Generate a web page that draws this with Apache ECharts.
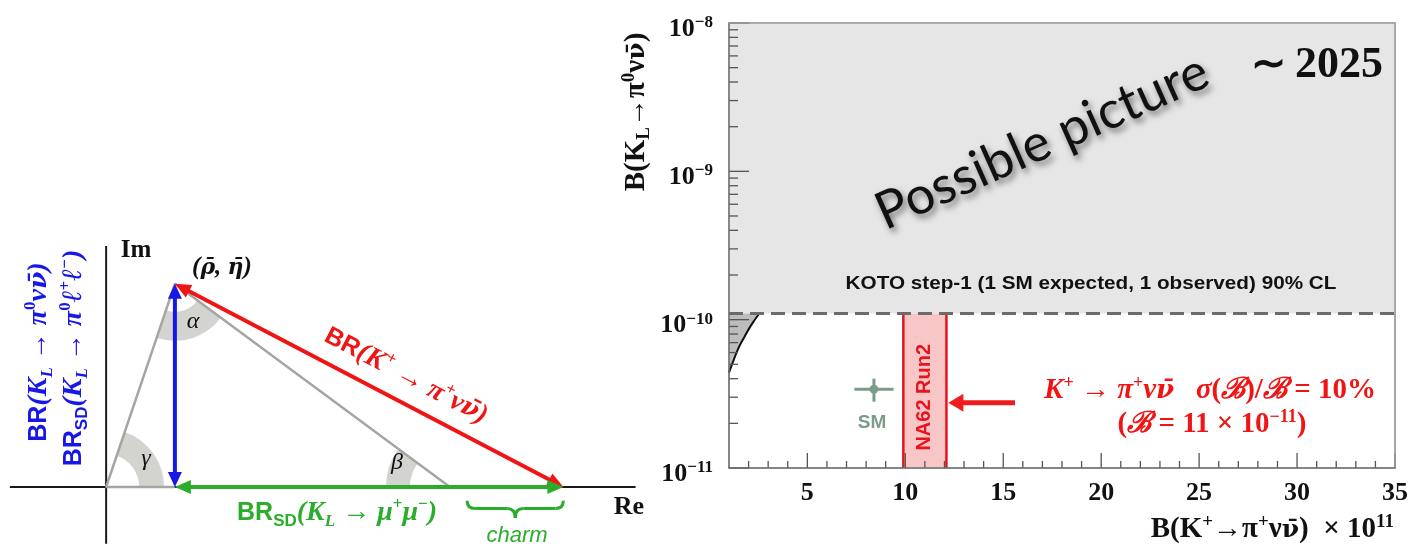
<!DOCTYPE html>
<html>
<head>
<meta charset="utf-8">
<script src="https://cdn.jsdelivr.net/npm/echarts@6/dist/echarts.min.js"></script>
<style>
  html, body { margin: 0; padding: 0; background: #ffffff; }
  #chart { width: 1416px; height: 549px; }
</style>
</head>
<body>
<div id="chart"></div>
<script>
// ---------- Unitarity triangle in the (Re, Im) plane ----------
const reAxis = [[-0.28, 0], [1.54, 0]];
const imAxis = [[0, -0.165], [0, 0.70]];
const apex = [0.2, 0.59];            // (rho-bar, eta-bar)
const apexFoot = [0.2, 0];
const origin = [0, 0];
const baseEnd = [1, 0];
const charmEnd = [1.33, 0];
const charmBrace = [1.05, 1.33, -0.04, -0.09];   // x from, x to, y top, y tip

// ---------- B(KL -> pi0 nu nubar) vs B(K+ -> pi+ nu nubar) ----------
const xRange = [1, 35];               // B(K+ -> pi+ nu nubar) x 1e11
const yRange = [1e-11, 1e-8];         // B(KL -> pi0 nu nubar)
const xTickLabels = [5, 10, 15, 20, 25, 30, 35];
const xMinorTicks = [2, 3, 4, 6, 7, 8, 9, 11, 12, 13, 14, 16, 17, 18, 19, 21, 22, 23, 24,
                     26, 27, 28, 29, 31, 32, 33, 34];
const yMajorTicks = [1e-11, 1e-10, 1e-9, 1e-8];
const yMinorTicks = [2e-11, 3e-11, 4e-11, 5e-11, 6e-11, 7e-11, 8e-11, 9e-11,
                     2e-10, 3e-10, 4e-10, 5e-10, 6e-10, 7e-10, 8e-10, 9e-10,
                     2e-9, 3e-9, 4e-9, 5e-9, 6e-9, 7e-9, 8e-9, 9e-9];
const kotoLimit = 1.1e-10;            // KOTO step-1, 90% CL
const gnBound = [[1.0, 4.4e-11], [1.25, 5.4e-11], [1.5, 6.5e-11], [1.75, 7.5e-11],
                 [2.0, 8.6e-11], [2.25, 9.7e-11], [2.55, 1.1e-10]];   // Grossman-Nir bound
const smPoint = [8.4, 3.4e-11];
const smErrX = [7.4, 9.4];
const smErrY = [2.8e-11, 4.0e-11];
const na62Central = 11;               // x 1e-11
const na62RelErr = 0.10;
const na62LabelY = 3.0e-11;
const na62Arrow = [15.6, 2.75e-11, 12.2, 2.75e-11];

// ---------- styles ----------
const SERIF = '"Liberation Serif", "Times New Roman", serif';
const SANS = '"Liberation Sans", Arial, sans-serif';
const MARKS = '"DejaVu Serif", serif';   // carries the combining macron
const LATO = 'Lato, "Open Sans", sans-serif';
const RED = '#f01414';
const BLUE = '#1717e6';
const GREEN = '#2aad2a';
const INK = '#111111';

function tok(family, size, weight, style, color, lh, va) {
  const o = { fontFamily: family, fontSize: size, fontWeight: weight, fontStyle: style,
              fill: color, color: color, lineHeight: lh };
  if (va) o.verticalAlign = va;
  return o;
}

const arrowStyles = [
  { color: BLUE, width: 4, head: 15, half: 7, both: true },
  { color: RED, width: 4, head: 16, half: 7, both: true },
  { color: GREEN, width: 4, head: 16, half: 7, both: true },
  { color: '#ee1c1c', width: 5, head: 15, half: 9, both: false }
];
const angleRadii = [[33, 58], [28, 57], [40, 64]];

function arrowShape(p1, p2, st) {
  const dx = p2[0] - p1[0], dy = p2[1] - p1[1];
  const L = Math.hypot(dx, dy);
  const ux = dx / L, uy = dy / L, nx = -uy, ny = ux;
  const a = st.both ? [p1[0] + ux * st.head * 0.7, p1[1] + uy * st.head * 0.7] : p1;
  const b = [p2[0] - ux * st.head * 0.7, p2[1] - uy * st.head * 0.7];
  const head = (tip, sx, sy) => ({
    type: 'polygon',
    shape: { points: [tip,
      [tip[0] - sx * st.head + nx * st.half, tip[1] - sy * st.head + ny * st.half],
      [tip[0] - sx * st.head - nx * st.half, tip[1] - sy * st.head - ny * st.half]] },
    style: { fill: st.color }
  });
  const children = [
    { type: 'line', shape: { x1: a[0], y1: a[1], x2: b[0], y2: b[1] },
      style: { stroke: st.color, lineWidth: st.width } },
    head(p2, ux, uy)
  ];
  if (st.both) children.push(head(p1, -ux, -uy));
  return { type: 'group', children: children };
}

function renderArrow(params, api) {
  const p1 = api.coord([api.value(0), api.value(1)]);
  const p2 = api.coord([api.value(2), api.value(3)]);
  return arrowShape(p1, p2, arrowStyles[api.value(4)]);
}

function renderAngle(params, api) {
  const v = api.coord([api.value(0), api.value(1)]);
  const p = api.coord([api.value(2), api.value(3)]);
  const q = api.coord([api.value(4), api.value(5)]);
  let a1 = Math.atan2(p[1] - v[1], p[0] - v[0]);
  let a2 = Math.atan2(q[1] - v[1], q[0] - v[0]);
  let d = a2 - a1;
  while (d < 0) d += 2 * Math.PI;
  if (d > Math.PI) { a1 = a2; d = 2 * Math.PI - d; }
  const r = angleRadii[params.dataIndex];
  return { type: 'sector',
    shape: { cx: v[0], cy: v[1], r0: r[0], r: r[1], startAngle: a1, endAngle: a1 + d, clockwise: true },
    style: { fill: '#d3d3cf' } };
}

function renderBrace(params, api) {
  const l = api.coord([api.value(0), api.value(2)]);
  const r = api.coord([api.value(1), api.value(2)]);
  const t = api.coord([(api.value(0) + api.value(1)) / 2, api.value(3)]);
  const yT = l[1], yTip = t[1], yM = yT + (yTip - yT) * 0.45, xm = t[0], k = 8;
  const st = { stroke: GREEN, lineWidth: 3, fill: null };
  return { type: 'group', children: [
    { type: 'bezierCurve', shape: { x1: l[0], y1: yT, x2: l[0] + k, y2: yM, cpx1: l[0], cpy1: yM }, style: st },
    { type: 'line', shape: { x1: l[0] + k, y1: yM, x2: xm - k, y2: yM }, style: st },
    { type: 'bezierCurve', shape: { x1: xm - k, y1: yM, x2: xm, y2: yTip, cpx1: xm, cpy1: yM }, style: st },
    { type: 'bezierCurve', shape: { x1: xm, y1: yTip, x2: xm + k, y2: yM, cpx1: xm, cpy1: yM }, style: st },
    { type: 'line', shape: { x1: xm + k, y1: yM, x2: r[0] - k, y2: yM }, style: st },
    { type: 'bezierCurve', shape: { x1: r[0] - k, y1: yM, x2: r[0], y2: yT, cpx1: r[0], cpy1: yM }, style: st }
  ] };
}

function renderGN(params, api) {
  if (params.dataIndex !== 0) return null;
  const pts = gnBound.map(p => api.coord(p));
  const corner = api.coord([xRange[0], kotoLimit]);
  return { type: 'group', children: [
    { type: 'polygon', shape: { points: pts.concat([corner]) }, style: { fill: '#bdbdbd' } },
    { type: 'polyline', shape: { points: pts, smooth: 0.3 }, style: { stroke: '#111', lineWidth: 2, fill: null } }
  ] };
}

function renderBand(params, api) {
  const lo = api.value(0), hi = api.value(1);
  const tl = api.coord([lo, kotoLimit]);
  const br = api.coord([hi, yRange[0]]);
  const lab = api.coord([(lo + hi) / 2, na62LabelY]);
  const edge = { stroke: '#e8141c', lineWidth: 2.5 };
  return { type: 'group', children: [
    { type: 'rect', shape: { x: tl[0], y: tl[1], width: br[0] - tl[0], height: br[1] - tl[1] },
      style: { fill: '#f8c6c6' } },
    { type: 'line', shape: { x1: tl[0], y1: tl[1], x2: tl[0], y2: br[1] }, style: edge },
    { type: 'line', shape: { x1: br[0], y1: tl[1], x2: br[0], y2: br[1] }, style: edge },
    { type: 'text', x: lab[0], y: lab[1], rotation: Math.PI / 2,
      style: { text: 'NA62 Run2', fill: '#e8141c', font: 'bold 20px ' + SANS,
               align: 'center', verticalAlign: 'middle', textAlign: 'center', textVerticalAlign: 'middle' } }
  ] };
}

function renderSM(params, api) {
  const c = api.coord([api.value(0), api.value(1)]);
  const xl = api.coord([api.value(2), api.value(1)]);
  const xh = api.coord([api.value(3), api.value(1)]);
  const yl = api.coord([api.value(0), api.value(4)]);
  const yh = api.coord([api.value(0), api.value(5)]);
  const col = '#7a9c88';
  const st = { stroke: col, lineWidth: 3 };
  return { type: 'group', children: [
    { type: 'line', shape: { x1: xl[0], y1: c[1], x2: xh[0], y2: c[1] }, style: st },
    { type: 'line', shape: { x1: c[0], y1: yl[1], x2: c[0], y2: yh[1] }, style: st },
    { type: 'circle', shape: { cx: c[0], cy: c[1], r: 4.5 }, style: { fill: col } },
    { type: 'text', x: c[0] - 2, y: c[1] + 34,
      style: { text: 'SM', fill: col, font: 'bold 19px ' + SANS,
               align: 'center', verticalAlign: 'middle', textAlign: 'center', textVerticalAlign: 'middle' } }
  ] };
}

const tickLen = [15, 7, 20, 9];
function renderTick(params, api) {
  const kind = api.value(2);
  const p = api.coord([api.value(0), api.value(1)]);
  const len = tickLen[kind];
  const shape = kind < 2
    ? { x1: p[0], y1: p[1], x2: p[0], y2: p[1] - len }
    : { x1: p[0], y1: p[1], x2: p[0] + len, y2: p[1] };
  return { type: 'line', shape: shape, style: { stroke: '#555', lineWidth: 1.3 } };
}

const tickRows = [].concat(
  xTickLabels.map(v => [v, yRange[0], 0]),
  xMinorTicks.map(v => [v, yRange[0], 1]),
  yMajorTicks.map(v => [xRange[0], v, 2]),
  yMinorTicks.map(v => [xRange[0], v, 3])
);

const na62Band = [[na62Central * (1 - na62RelErr), na62Central * (1 + na62RelErr)]];

// ---------- free text ----------
function label(x, y, text, font, fill, extra) {
  return Object.assign({ type: 'text', x: x, y: y, z: 50,
    style: { text: text, font: font, fill: fill, align: 'center', verticalAlign: 'middle',
             textAlign: 'center', textVerticalAlign: 'middle' } }, extra || {});
}
function richLabel(x, y, text, rich, rotation, align, extra) {
  return Object.assign({ type: 'text', x: x, y: y, z: 50, rotation: rotation || 0,
    style: { text: text, rich: rich, align: align || 'center', verticalAlign: 'middle',
             textAlign: align || 'center', textVerticalAlign: 'middle' } }, extra || {});
}

function mathRich(color, base, sans, small) {
  return {
    s: tok(SANS, sans, 'bold', 'normal', color, 34),
    i: tok(SERIF, base, 'bold', 'italic', color, 34),
    v: tok(MARKS, base - 3, 'bold', 'italic', color, 34),
    u: tok(SERIF, small, 'bold', 'normal', color, small, 'top'),
    d: tok(SERIF, small, 'bold', 'italic', color, 15, 'bottom'),
    sd: tok(SANS, small, 'bold', 'normal', color, 15, 'bottom')
  };
}
const redRich = mathRich(RED, 28, 25, 17);
const blueRich = mathRich(BLUE, 28, 25, 17);
const greenRich = mathRich(GREEN, 28, 25, 17);
const pointRich = {
  i: tok(SERIF, 25, 'bold', 'italic', INK, 30),
  v: tok(MARKS, 22, 'bold', 'italic', INK, 30)
};
const titleRich = {
  t: tok(SERIF, 29, 'bold', 'normal', INK, 34),
  v: tok(MARKS, 25, 'bold', 'normal', INK, 34),
  u: tok(SERIF, 19, 'bold', 'normal', INK, 19, 'top'),
  d: tok(SERIF, 19, 'bold', 'normal', INK, 16, 'bottom')
};
const noteRich = {
  i: tok(SERIF, 29, 'bold', 'italic', RED, 34),
  v: tok(MARKS, 26, 'bold', 'italic', RED, 34),
  r: tok(SERIF, 29, 'bold', 'normal', RED, 34),
  c: tok(SERIF, 29, 'bold', 'italic', RED, 34),
  u: tok(SERIF, 18, 'bold', 'normal', RED, 18, 'top')
};
const yearRich = {
  a: tok(SERIF, 42, 'bold', 'normal', INK, 48),
  b: tok(SERIF, 44, 'bold', 'normal', INK, 48)
};

const graphics = [
  // unitarity triangle labels
  label(136, 251, 'Im', 'bold 25px ' + SERIF, INK),
  richLabel(222, 268, '{i|(}{v|\u03C1\u0304}{i|, }{v|\u03B7\u0304}{i|)}', pointRich, 0),
  label(193, 322, '\u03B1', 'italic 24px ' + SERIF, INK),
  label(146, 459, '\u03B3', 'italic 24px ' + SERIF, INK),
  label(397, 463, '\u03B2', 'italic 24px ' + SERIF, INK),
  label(629, 507, 'Re', 'bold 26px ' + SERIF, INK),
  label(517, 536, 'charm', 'italic 22px ' + SANS, GREEN),
  richLabel(406, 376, '{s|BR}{i|(K}{u|+}{i| \u2192 \u03C0}{u|+}{i|\u03BD}{v|\u03BD\u0304}{i|)}', redRich, -0.482),
  richLabel(39, 352, '{s|BR}{i|(K}{d|L}{i| \u2192 \u03C0}{u|0}{i|\u03BD}{v|\u03BD\u0304}{i|)}', blueRich, Math.PI / 2),
  richLabel(74, 358, '{s|BR}{sd|SD}{i|(K}{d|L}{i| \u2192 \u03C0}{u|0}{i|\u2113}{u|+}{i|\u2113}{u|\u2212}{i|)}', blueRich, Math.PI / 2),
  richLabel(337, 513, '{s|BR}{sd|SD}{i|(K}{d|L}{i| \u2192 \u03BC}{u|+}{i|\u03BC}{u|\u2212}{i|)}', greenRich, 0),

  // K -> pi nu nubar plane
  richLabel(637, 112, '{t|B(K}{d|L}{t|\u2192\u03C0}{u|0}{t|\u03BD}{v|\u03BD\u0304}{t|)}', titleRich, Math.PI / 2),
  richLabel(1394, 530, '{t|B(K}{u|+}{t|\u2192\u03C0}{u|+}{t|\u03BD}{v|\u03BD\u0304}{t|)  \u00D7 10}{u|11}', titleRich, 0, 'right'),
  label(1091, 284, 'KOTO step-1 (1 SM expected, 1 observed) 90% CL', 'bold 18px ' + SANS, INK, { scaleX: 1.15 }),
  label(1042, 142, 'Possible picture', '52px ' + LATO, INK, { rotation: 0.42 }),
  richLabel(1317, 66, '{a|\u223C}{b|\u20092025}', yearRich, 0),
  richLabel(1210, 391, '{i|K}{u|+}{r| \u2192 }{i|\u03C0}{u|+}{i|\u03BD}{v|\u03BD\u0304}{r|   }{i|\u03C3}{r|(}{c|\u212C}{r|)/}{c|\u212C}{r| = 10%}', noteRich, 0),
  richLabel(1212, 425, '{r|(}{c|\u212C}{r| = 11 \u00D7 10}{u|\u221211}{r|)}', noteRich, 0)
];
// soft drop shadow on the watermark text
graphics[14].style.textShadowColor = 'rgba(0,0,0,0.5)';
graphics[14].style.textShadowBlur = 6;
graphics[14].style.textShadowOffsetX = 3;
graphics[14].style.textShadowOffsetY = 4;

const axisGray = { color: '#6d6d6d', width: 1.5 };
const frameGray = { color: '#9a9a9a', width: 1.5 };

const option = {
  animation: false,
  backgroundColor: '#ffffff',
  grid: [
    { left: 3, top: 239, width: 636, height: 310, show: false },
    { left: 729, top: 23, width: 666, height: 445, show: true,
      backgroundColor: '#ffffff', borderColor: '#9a9a9a', borderWidth: 1 }
  ],
  xAxis: [
    { gridIndex: 0, type: 'value', min: -0.3, max: 1.55, show: false },
    { gridIndex: 1, type: 'value', min: xRange[0], max: xRange[1], interval: 1, z: 10,
      axisLine: { show: true, lineStyle: axisGray }, axisTick: { show: false },
      splitLine: { show: false },
      axisLabel: { interval: 0, margin: 12, fontFamily: SERIF, fontSize: 26, fontWeight: 'bold', color: INK,
        formatter: v => (xTickLabels.indexOf(v) >= 0 ? String(v) : '') } },
    { gridIndex: 1, type: 'value', position: 'top', min: xRange[0], max: xRange[1], z: 10,
      axisLine: { show: true, lineStyle: frameGray }, axisTick: { show: false },
      axisLabel: { show: false }, splitLine: { show: false } }
  ],
  yAxis: [
    { gridIndex: 0, type: 'value', min: -0.18, max: 0.72, show: false },
    { gridIndex: 1, type: 'log', logBase: 10, min: yRange[0], max: yRange[1], z: 10,
      axisLine: { show: true, lineStyle: axisGray }, axisTick: { show: false },
      splitLine: { show: false }, minorSplitLine: { show: false },
      axisLabel: { margin: 16, padding: [12, 0, 0, 0],
        formatter: v => '{b|10}{s|\u2212' + Math.abs(Math.round(Math.log10(v))) + '}',
        rich: {
          b: { fontFamily: SERIF, fontSize: 26, fontWeight: 'bold', color: INK, lineHeight: 30 },
          s: { fontFamily: SERIF, fontSize: 17, fontWeight: 'bold', color: INK, lineHeight: 17, verticalAlign: 'top' }
        } } },
    { gridIndex: 1, type: 'log', logBase: 10, position: 'right', min: yRange[0], max: yRange[1], z: 10,
      axisLine: { show: true, lineStyle: frameGray }, axisTick: { show: false },
      axisLabel: { show: false }, splitLine: { show: false } }
  ],
  series: [
    // ---- triangle diagram ----
    { type: 'custom', name: 'angles', xAxisIndex: 0, yAxisIndex: 0, z: 1, silent: true,
      encode: { x: [0, 2, 4], y: [1, 3, 5] }, renderItem: renderAngle,
      data: [origin.concat(apex, baseEnd), apex.concat(origin, baseEnd), baseEnd.concat(origin, apex)] },
    { type: 'line', name: 'Re', xAxisIndex: 0, yAxisIndex: 0, z: 2, silent: true, symbol: 'none',
      data: reAxis, lineStyle: { color: '#1a1a1a', width: 2 } },
    { type: 'line', name: 'Im', xAxisIndex: 0, yAxisIndex: 0, z: 2, silent: true, symbol: 'none',
      data: imAxis, lineStyle: { color: '#1a1a1a', width: 2 } },
    { type: 'line', name: 'triangle', xAxisIndex: 0, yAxisIndex: 0, z: 3, silent: true, symbol: 'none',
      data: [apexFoot, origin, apex, baseEnd], lineStyle: { color: '#a5a5a5', width: 2.5 } },
    { type: 'custom', name: 'arrows', xAxisIndex: 0, yAxisIndex: 0, z: 4, silent: true,
      encode: { x: [0, 2], y: [1, 3] }, renderItem: renderArrow,
      data: [apexFoot.concat(apex, [0]), apex.concat(charmEnd, [1]), charmEnd.concat(apexFoot, [2])] },
    { type: 'custom', name: 'charm', xAxisIndex: 0, yAxisIndex: 0, z: 4, silent: true,
      encode: { x: [0, 1], y: [2, 3] }, renderItem: renderBrace, data: [charmBrace] },

    // ---- K -> pi nu nubar plane ----
    { type: 'line', name: 'KOTO step-1', xAxisIndex: 1, yAxisIndex: 1, z: 5, silent: true, symbol: 'none',
      data: [[xRange[0], kotoLimit], [xRange[1], kotoLimit]],
      lineStyle: { color: '#6b6b6b', width: 3, type: [14, 7] },
      markArea: { silent: true, itemStyle: { color: '#e6e6e6' },
        data: [[{ coord: [xRange[0], kotoLimit] }, { coord: [xRange[1], yRange[1]] }]] } },
    { type: 'custom', name: 'Grossman-Nir', xAxisIndex: 1, yAxisIndex: 1, z: 3, silent: true,
      renderItem: renderGN, data: gnBound },
    { type: 'custom', name: 'NA62 Run2', xAxisIndex: 1, yAxisIndex: 1, z: 4, silent: true,
      encode: { x: [0, 1] }, renderItem: renderBand, data: na62Band },
    { type: 'custom', name: 'SM', xAxisIndex: 1, yAxisIndex: 1, z: 6, silent: true,
      encode: { x: [0, 2, 3], y: [1, 4, 5] }, renderItem: renderSM,
      data: [[smPoint[0], smPoint[1], smErrX[0], smErrX[1], smErrY[0], smErrY[1]]] },
    { type: 'custom', name: 'NA62 arrow', xAxisIndex: 1, yAxisIndex: 1, z: 6, silent: true,
      encode: { x: [0, 2], y: [1, 3] }, renderItem: renderArrow, data: [na62Arrow.concat([3])] },
    { type: 'custom', name: 'ticks', xAxisIndex: 1, yAxisIndex: 1, z: 8, silent: true,
      encode: { x: 0, y: 1 }, renderItem: renderTick, data: tickRows }
  ],
  graphic: graphics
};

const chart = echarts.init(document.getElementById('chart'));
chart.setOption(option);
</script>
</body>
</html>
